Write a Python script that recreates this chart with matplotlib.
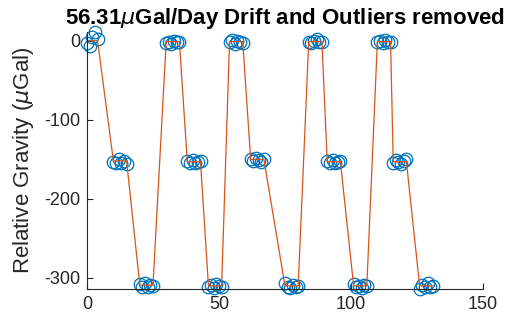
import numpy as np
import matplotlib.pyplot as plt

plt.rcParams['font.family'] = ['Liberation Sans', 'DejaVu Sans']
plt.rcParams['mathtext.fontset'] = 'dejavusans'
plt.rcParams['axes.unicode_minus'] = False

# sample index of each reading
t = [0, 1, 2, 3, 4,
     10, 11, 12, 13, 14, 15,
     20, 21, 22, 23, 24, 25,
     30, 31, 32, 33, 34, 35,
     38, 39, 40, 41, 42, 43,
     46, 47, 48, 49, 50, 51,
     54, 55, 56, 57, 58, 59,
     62, 63, 64, 65, 66, 67,
     75, 76, 77, 78, 79, 80,
     84, 85, 86, 87, 88, 89,
     91, 92, 93, 94, 95, 96,
     101, 102, 103, 104, 105, 106,
     110, 111, 112, 113, 114, 115,
     116, 117, 118, 119, 120, 121,
     126, 127, 128, 129, 130, 131]

# corrected gravity readings (uGal)
g = [-3, -6, 5, 11, 2,
     -153, -155, -150, -154, -152, -156,
     -308, -311, -307, -312, -309, -310,
     -3, -1, -4, 0, -2, -1,
     -152, -154, -151, -155, -153, -152,
     -311, -309, -313, -308, -310, -311,
     -2, 1, -4, 0, -1, -3,
     -150, -152, -148, -151, -153, -149,
     -307, -311, -313, -309, -312, -310,
     -1, -3, 0, 2, -2, -1,
     -152, -155, -151, -154, -153, -152,
     -308, -311, -310, -313, -309, -310,
     -2, 0, -3, 1, -1, -2,
     -155, -151, -153, -156, -152, -150,
     -314, -309, -311, -307, -312, -310]

# station mean for each reading
gm = [0, 0, 0, 0, 0,
      -152, -152, -152, -152, -152, -152,
      -309, -309, -309, -309, -309, -309,
      -1, -1, -1, -1, -1, -1,
      -153, -153, -153, -153, -153, -153,
      -310, -310, -310, -310, -310, -310,
      -1, -1, -1, -1, -1, -1,
      -150, -150, -150, -150, -150, -150,
      -310, -310, -310, -310, -310, -310,
      -1, -1, -1, -1, -1, -1,
      -153, -153, -153, -153, -153, -153,
      -310, -310, -310, -310, -310, -310,
      -1, -1, -1, -1, -1, -1,
      -153, -153, -153, -153, -153, -153,
      -310, -310, -310, -310, -310, -310]

fig = plt.figure(figsize=(5.07, 3.24), dpi=100)
ax = fig.add_axes([0.1716, 0.108, 0.781, 0.793])

ax.plot(t, g, 'o', mfc='none', mec='#0072BD', ms=9, mew=0.9, clip_on=False)
ax.plot(t, gm, '-', color='#D95319', lw=0.9)

ax.set_xlim(0, 150)
ax.set_ylim(min(g), max(g))
ax.set_xticks([0, 50, 100, 150])
ax.set_yticks([-300, -200, -100, 0])

for s in ['top', 'right']:
    ax.spines[s].set_visible(False)
for s in ['left', 'bottom']:
    ax.spines[s].set_color('#262626')
    ax.spines[s].set_linewidth(0.8)
ax.tick_params(direction='in', length=4, width=0.8, colors='#262626',
               labelsize=13, pad=5)

ax.set_ylabel(r'Relative Gravity ($\mu$Gal)', fontsize=16, color='#262626',
              labelpad=6)
ax.set_title(r'56.31$\mu$Gal/Day Drift and Outliers removed',
             fontsize=16, fontweight='bold', pad=6)

plt.savefig('out.png', dpi=100)
